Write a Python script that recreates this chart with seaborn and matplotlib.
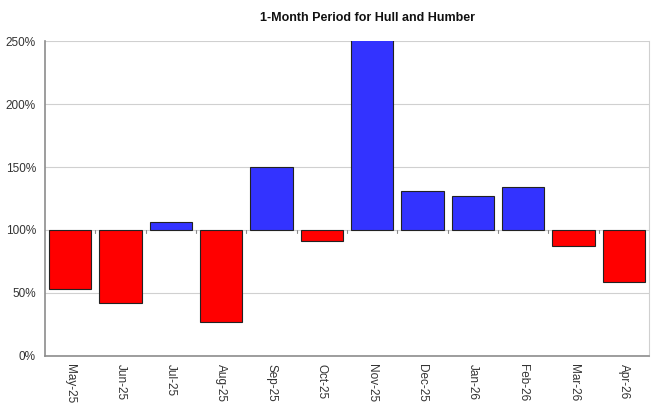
import matplotlib
matplotlib.use("Agg")
import matplotlib.pyplot as plt
import matplotlib.ticker as mticker
import numpy as np
import pandas as pd
import seaborn as sns

months = ["May-25", "Jun-25", "Jul-25", "Aug-25", "Sep-25", "Oct-25",
          "Nov-25", "Dec-25", "Jan-26", "Feb-26", "Mar-26", "Apr-26"]
values = [53, 42, 106, 27, 150, 91, 255, 131, 127, 134, 87, 59]
baseline = 100

sns.set_style("white")
plt.rcParams["font.family"] = ["Liberation Sans", "DejaVu Sans"]

df = pd.DataFrame({"month": months, "value": values})
df["delta"] = df["value"] - baseline
df["dir"] = np.where(df["delta"] >= 0, "up", "down")

fig = plt.figure(figsize=(6.51, 4.03), dpi=100)
ax = fig.add_axes([0.069, 0.117, 0.928, 0.781])

sns.barplot(data=df, x="month", y="delta", hue="dir",
            palette={"up": "#3333FF", "down": "#FF0000"}, saturation=1,
            dodge=False, legend=False, width=0.84,
            edgecolor="#222222", linewidth=0.8, ax=ax, zorder=3)

# shift the axis so bars hang from the 100% line
ax.set_ylim(-baseline, 250 - baseline)
ax.set_yticks(np.arange(0, 251, 50) - baseline)
ax.yaxis.set_major_formatter(mticker.FuncFormatter(lambda v, p: f"{int(v + baseline)}%"))
ax.set_xlim(-0.5, len(months) - 0.5)
ax.yaxis.grid(True, color="#d0d0d0", linewidth=0.8, zorder=0)
ax.set_axisbelow(True)

for s in ["left", "bottom"]:
    ax.spines[s].set_color("#8c8c8c")
    ax.spines[s].set_linewidth(1.2)
ax.spines["top"].set_visible(False)
ax.spines["right"].set_color("#d0d0d0")

ax.tick_params(axis="y", length=3, color="#8c8c8c", labelsize=8.5, labelcolor="#333333")
ax.tick_params(axis="x", length=0, labelsize=8.5, labelcolor="#333333", pad=6)
plt.setp(ax.get_xticklabels(), rotation=270)

# small tick marks between categories on the 100% line
for b in np.arange(0.5, len(months) - 0.5, 1.0):
    ax.plot([b, b], [-2.5, 0], color="#8c8c8c", linewidth=0.8, zorder=4)

ax.set_xlabel("")
ax.set_ylabel("")
fig.text(0.565, 0.955, "1-Month Period for Hull and Humber", ha="center",
         va="center", fontsize=9, fontweight="bold", color="#111111")

fig.savefig("out.png", dpi=100)
